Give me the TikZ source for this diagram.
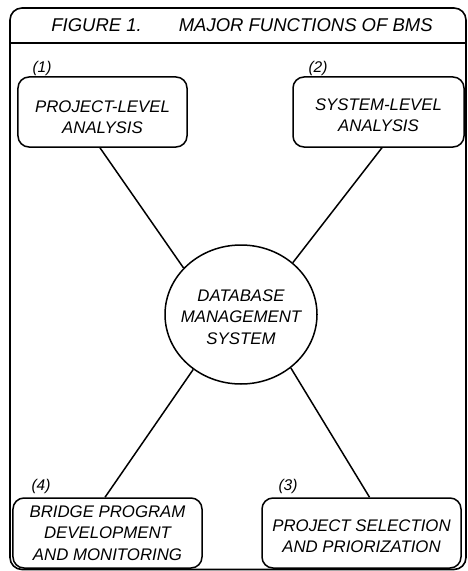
\documentclass[tikz,border=0pt]{standalone}
\usepackage{fontspec}
\newfontfamily\figfont{Liberation Sans}
\usetikzlibrary{shapes.geometric,calc}
\newcommand\topgap[1]{\rule{0pt}{#1}}
\begin{document}
\begin{tikzpicture}[x=1bp,y=-1bp,
  txt/.style={font=\figfont\itshape\fontsize{16.8bp}{21.5bp}\selectfont, align=center},
  titletxt/.style={font=\figfont\itshape\fontsize{18.5bp}{22bp}\selectfont, inner sep=0pt},
  fbox/.style={txt, draw, line width=1.5bp, rounded corners=11bp, minimum height=70bp, inner sep=0pt},
  num/.style={font=\figfont\itshape\fontsize{15.5bp}{18bp}\selectfont, inner sep=0pt},
  hub/.style={txt, draw, ellipse, line width=1.5bp, minimum width=152bp, minimum height=139bp, inner xsep=-10bp, inner ysep=0pt},
  link/.style={line width=1.5bp},
  frame/.style={line width=1.6bp}]
\useasboundingbox (0,0) rectangle (468,571);
% outer frame and header
\draw[frame, rounded corners=12bp] (10,8) rectangle (466,569.5);
\draw[frame] (10,43) -- (466,43);
\node[titletxt] (title) at (242,25) {FIGURE 1.\hspace{37bp}MAJOR FUNCTIONS OF BMS};
% function boxes
\node[fbox, minimum width=169bp] (b1) at (102.5,112) {\topgap{22bp}PROJECT-LEVEL\\ANALYSIS};
\node[fbox, minimum width=171bp] (b2) at (378.5,112) {\topgap{18.5bp}SYSTEM-LEVEL\\ANALYSIS};
\node[fbox, minimum width=189bp] (b4) at (107.5,533) {BRIDGE PROGRAM\\DEVELOPMENT\\AND MONITORING};
\node[fbox, minimum width=199bp] (b3) at (361.5,533) {\topgap{18bp}PROJECT SELECTION\\AND PRIORIZATION};
% numbers
\node[num] (n1) at (42,68) {(1)};
\node[num] (n2) at (318,68) {(2)};
\node[num] (n4) at (41,486) {(4)};
\node[num] (n3) at (288,486) {(3)};
% central hub
\node[hub] (db) at (241,314.5) {\topgap{17bp}DATABASE\\MANAGEMENT\\SYSTEM};
% connectors
\draw[link] ($(b1.south west)!0.485!(b1.south east)$) -- (db.141.8);
\draw[link] ($(b2.south west)!0.52!(b2.south east)$) -- (db.45.6);
\draw[link] (db.229.4) -- ($(b4.north west)!0.487!(b4.north east)$);
\draw[link] (db.313.4) -- ($(b3.north west)!0.54!(b3.north east)$);
\end{tikzpicture}
\end{document}
